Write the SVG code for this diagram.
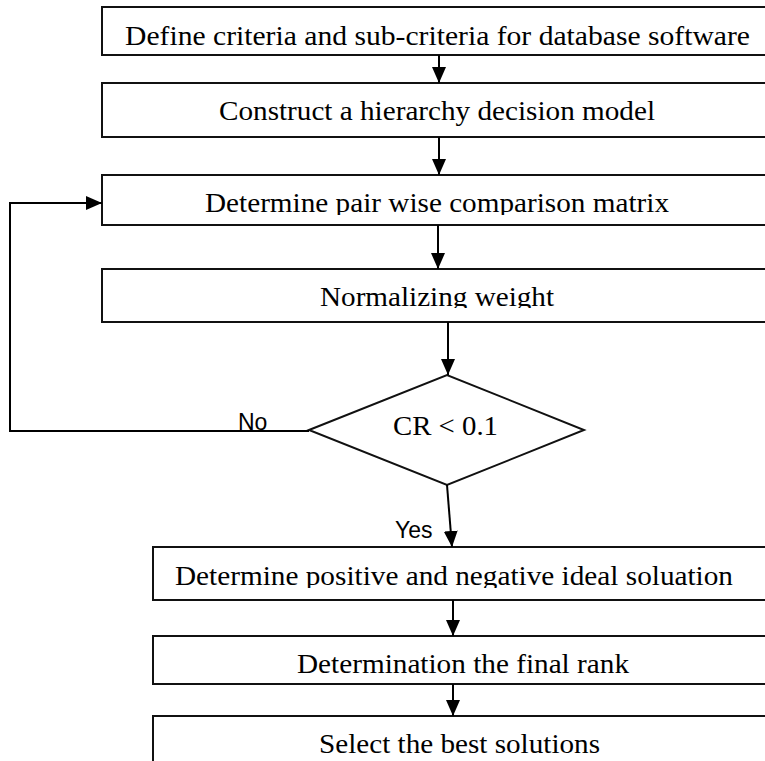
<svg xmlns="http://www.w3.org/2000/svg" width="765" height="761" viewBox="0 0 765 761">
  <style>
    .box { fill: #fff; stroke: #111; stroke-width: 2; }
    .t { font-family: "Liberation Serif", "Times New Roman", serif; font-size: 28px; fill: #000; }
    .lbl { font-family: "Liberation Sans", Arial, sans-serif; font-size: 23px; fill: #000; }
    .conn { fill: none; stroke: #000; stroke-width: 2; }
  </style>
  <defs>
    <marker id="arr" markerUnits="userSpaceOnUse" markerWidth="16" markerHeight="14" refX="16" refY="7" orient="auto">
      <path d="M0,0 L16,7 L0,14 z" fill="#000"/>
    </marker>
    <clipPath id="c3"><rect x="102" y="175" width="680" height="40"/></clipPath>
    <clipPath id="c4"><rect x="102" y="269" width="680" height="39"/></clipPath>
    <clipPath id="c5"><rect x="153" y="547" width="630" height="41"/></clipPath>
  </defs>
  <rect width="765" height="761" fill="#fff"/>

  <g id="n1">
    <rect class="box" x="102" y="7" width="700" height="48"/>
    <text class="t" x="125" y="45" textLength="625" lengthAdjust="spacingAndGlyphs">Define criteria and sub-criteria  for database software</text>
  </g>
  <g id="n2">
    <rect class="box" x="102" y="83" width="700" height="54"/>
    <text class="t" x="219" y="120" textLength="436" lengthAdjust="spacingAndGlyphs">Construct a hierarchy decision model</text>
  </g>
  <g id="n3">
    <rect class="box" x="102" y="175" width="700" height="50"/>
    <text class="t" x="205" y="212" textLength="464" lengthAdjust="spacingAndGlyphs" clip-path="url(#c3)">Determine pair wise comparison matrix</text>
  </g>
  <g id="n4">
    <rect class="box" x="102" y="269" width="700" height="53"/>
    <text class="t" x="320" y="306" textLength="234" lengthAdjust="spacingAndGlyphs" clip-path="url(#c4)">Normalizing weight</text>
  </g>
  <g id="d1">
    <polygon class="box" points="309,430 447,375 584,430 447,485"/>
    <text class="t" x="393" y="435" textLength="105" lengthAdjust="spacingAndGlyphs">CR &lt; 0.1</text>
  </g>
  <g id="n5">
    <rect class="box" x="153" y="547" width="650" height="53"/>
    <text class="t" x="175" y="585" textLength="558" lengthAdjust="spacingAndGlyphs" clip-path="url(#c5)">Determine positive and negative ideal soluation</text>
  </g>
  <g id="n6">
    <rect class="box" x="153" y="636" width="650" height="48"/>
    <text class="t" x="297" y="673" textLength="332" lengthAdjust="spacingAndGlyphs">Determination the final rank</text>
  </g>
  <g id="n7">
    <rect class="box" x="153" y="716" width="650" height="60"/>
    <text class="t" x="319" y="753" textLength="281" lengthAdjust="spacingAndGlyphs">Select the best solutions</text>
  </g>

  <g id="connectors">
    <line class="conn" x1="439" y1="55" x2="439" y2="83" marker-end="url(#arr)"/>
    <line class="conn" x1="439" y1="137" x2="439" y2="175" marker-end="url(#arr)"/>
    <line class="conn" x1="438" y1="225" x2="438" y2="269" marker-end="url(#arr)"/>
    <line class="conn" x1="448" y1="322" x2="448" y2="375" marker-end="url(#arr)"/>
    <path class="conn" d="M309,431 H10 V203 H102" marker-end="url(#arr)"/>
    <line class="conn" x1="447" y1="485" x2="452" y2="547" marker-end="url(#arr)"/>
    <line class="conn" x1="453" y1="600" x2="453" y2="636" marker-end="url(#arr)"/>
    <line class="conn" x1="453" y1="684" x2="453" y2="716" marker-end="url(#arr)"/>
    <text class="lbl" x="238" y="430">No</text>
    <text class="lbl" x="395" y="538">Yes</text>
  </g>
</svg>
